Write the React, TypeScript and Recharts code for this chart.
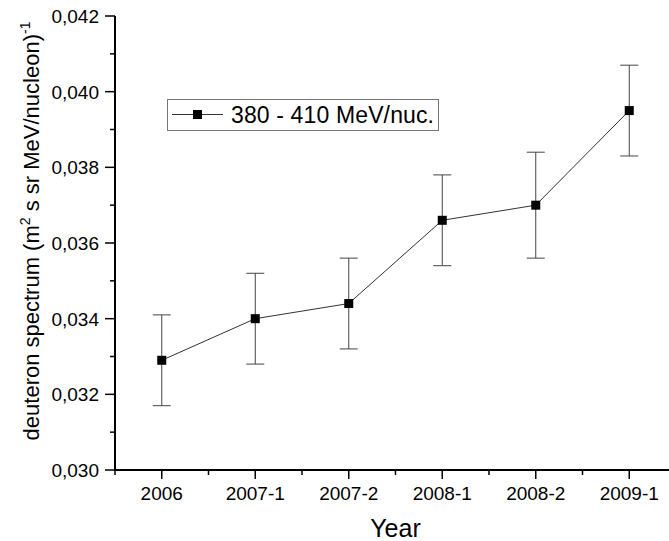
import React from 'react';
import { LineChart, Line, XAxis, YAxis, ErrorBar, Legend } from 'recharts';

const categories = ['2006', '2007-1', '2007-2', '2008-1', '2008-2', '2009-1'];
const values = [0.0329, 0.034, 0.0344, 0.0366, 0.037, 0.0395];
const errors = [0.0012, 0.0012, 0.0012, 0.0012, 0.0014, 0.0012];
const yTicks = [0.03, 0.031, 0.032, 0.033, 0.034, 0.035, 0.036, 0.037, 0.038, 0.039, 0.04, 0.041, 0.042];
const xTicks = [-0.5, 0, 0.5, 1, 1.5, 2, 2.5, 3, 3.5, 4, 4.5, 5, 5.5];
const seriesName = '380 - 410 MeV/nuc.';
const xTitle = 'Year';

const data = categories.map((c, i) => ({ idx: i, cat: c, value: values[i], err: errors[i] }));

const FONT = '"Liberation Sans", Arial, sans-serif';
const MAJOR = 9;
const MINOR = 5;
const TW = 1.5;

const isMajorY = (v: number) => Math.round(v * 1000) % 2 === 0;
const isMajorX = (v: number) => Number.isInteger(v);

const LeftTick = (props: any) => {
  const { x, y, payload } = props;
  const v = payload.value as number;
  if (!isMajorY(v)) return <line x1={x} x2={x - MINOR} y1={y} y2={y} stroke="#000" strokeWidth={TW} />;
  return (
    <g>
      <line x1={x} x2={x - 10} y1={y} y2={y} stroke="#000" strokeWidth={TW} />
      <text x={x - 16} y={y} dy="0.36em" textAnchor="end" fontSize={19} fill="#000">
        {v.toFixed(3).replace('.', ',')}
      </text>
    </g>
  );
};

const RightTick = (props: any) => {
  const { x, y, payload } = props;
  const len = isMajorY(payload.value) ? MAJOR : MINOR;
  return <line x1={x} x2={x - len} y1={y} y2={y} stroke="#000" strokeWidth={TW} />;
};

const BottomTick = (props: any) => {
  const { x, y, payload } = props;
  const v = payload.value as number;
  if (!isMajorX(v)) return <line x1={x} x2={x} y1={y} y2={y + MINOR} stroke="#000" strokeWidth={TW} />;
  return (
    <g>
      <line x1={x} x2={x} y1={y} y2={y + MAJOR} stroke="#000" strokeWidth={TW} />
      <text x={x} y={y + 30} textAnchor="middle" fontSize={19} fill="#000">
        {categories[v]}
      </text>
    </g>
  );
};

const TopTick = (props: any) => {
  const { x, y, payload } = props;
  const len = isMajorX(payload.value) ? MAJOR : MINOR;
  return <line x1={x} x2={x} y1={y} y2={y + len} stroke="#000" strokeWidth={TW} />;
};

const YTitle = (props: any) => {
  const vb = props.viewBox || { x: 0, y: 16, width: 115, height: 454 };
  const x = vb.x + 39;
  const y = vb.y + vb.height / 2 - 12;
  return (
    <text x={x} y={y} transform={`rotate(-90, ${x}, ${y})`} textAnchor="middle" fontSize={22} fill="#000">
      <tspan>deuteron spectrum (m</tspan>
      <tspan dy={-9} fontSize={14}>2</tspan>
      <tspan dy={9}> s sr MeV/nucleon)</tspan>
      <tspan dy={-9} fontSize={14}>-1</tspan>
    </text>
  );
};

const XTitle = (props: any) => {
  const vb = props.viewBox || { x: 115, y: 470, width: 561, height: 71 };
  return (
    <text x={vb.x + vb.width / 2} y={vb.y + 67} textAnchor="middle" fontSize={25} fill="#000">
      {xTitle}
    </text>
  );
};

const SquareDot = (props: any) => {
  const { cx, cy } = props;
  if (cx == null || cy == null) return null;
  return <rect x={cx - 4.5} y={cy - 4.5} width={9} height={9} fill="#000" />;
};

const LegendBox = () => (
  <div style={{ width: 272, height: 32, border: '1px solid #777', boxSizing: 'border-box', background: '#fff' }}>
    <svg width={270} height={30} style={{ display: 'block' }}>
      <line x1={4} x2={55} y1={14.5} y2={14.5} stroke="#333" strokeWidth={1} />
      <rect x={25} y={10} width={9} height={9} fill="#000" />
      <text x={63} y={23} fontSize={23} fill="#000" fontFamily={FONT} textLength={203} lengthAdjust="spacing">
        {seriesName}
      </text>
    </svg>
  </div>
);

export default function App() {
  return (
    <div
      style={{
        position: 'absolute',
        left: 0,
        top: 0,
        width: 669,
        height: 541,
        overflow: 'hidden',
        background: '#fff',
        fontFamily: FONT,
      }}
    >
      <LineChart width={700} height={541} data={data} margin={{ top: 16, right: 24, bottom: 0, left: 0 }}>
        <XAxis
          xAxisId={0}
          dataKey="idx"
          type="number"
          domain={[-0.5, 5.5]}
          ticks={xTicks}
          interval={0}
          height={71}
          tickSize={0}
          tickMargin={0}
          tickLine={false}
          tick={<BottomTick />}
          axisLine={{ stroke: '#000', strokeWidth: 2 }}
          allowDataOverflow
          label={<XTitle />}
        />
        <XAxis
          xAxisId="top"
          orientation="top"
          dataKey="idx"
          type="number"
          domain={[-0.5, 5.5]}
          ticks={xTicks}
          interval={0}
          height={0}
          tickSize={0}
          tickMargin={0}
          tickLine={false}
          tick={<TopTick />}
          axisLine={{ stroke: '#000', strokeWidth: 2 }}
          allowDataOverflow
        />
        <YAxis
          yAxisId={0}
          type="number"
          domain={[0.03, 0.042]}
          ticks={yTicks}
          interval={0}
          width={115}
          tickSize={0}
          tickMargin={0}
          tickLine={false}
          tick={<LeftTick />}
          axisLine={{ stroke: '#000', strokeWidth: 2 }}
          allowDataOverflow
          label={<YTitle />}
        />
        <YAxis
          yAxisId="right"
          orientation="right"
          type="number"
          domain={[0.03, 0.042]}
          ticks={yTicks}
          interval={0}
          width={0}
          tickSize={0}
          tickMargin={0}
          tickLine={false}
          tick={<RightTick />}
          axisLine={{ stroke: '#000', strokeWidth: 2 }}
          allowDataOverflow
        />
        <Legend
          layout="vertical"
          align="center"
          verticalAlign="middle"
          content={<LegendBox />}
          wrapperStyle={{ position: 'absolute', left: 167, top: 99, width: 272, height: 32 }}
        />
        <Line
          xAxisId={0}
          yAxisId={0}
          dataKey="value"
          name={seriesName}
          stroke="#333"
          strokeWidth={1}
          dot={<SquareDot />}
          activeDot={false}
          isAnimationActive={false}
        >
          <ErrorBar dataKey="err" width={9} stroke="#444" strokeWidth={1} direction="y" />
        </Line>
      </LineChart>
    </div>
  );
}
